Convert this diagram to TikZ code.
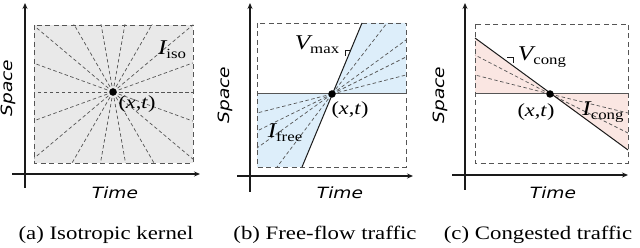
\documentclass[tikz,border=0pt]{standalone}
\usepackage{fontspec}
\setmainfont[FakeStretch=1.2]{Liberation Serif}
\setsansfont[FakeStretch=1.2]{DejaVu Sans}
\usetikzlibrary{arrows.meta,positioning}
\definecolor{Ink}{HTML}{1A1A1A}
\definecolor{Frame}{HTML}{555555}
\definecolor{Haze}{HTML}{E9E9E9}
\definecolor{Sky}{HTML}{DDEEFA}
\definecolor{Blush}{HTML}{FAE6E2}
\newcommand{\lowsub}[1]{\raisebox{-0.45ex}{\fontsize{14}{15}\selectfont #1}}

\tikzset{
  axis/.style={-{Stealth[length=6pt,width=5pt]}, line width=1.2pt, color=Ink},
  frame/.style={dash pattern=on 5pt off 3.5pt, color=Frame, line width=0.9pt},
  ray/.style={dash pattern=on 3.5pt off 2.5pt, color=Frame, line width=0.7pt},
  bound/.style={line width=1pt, color=Ink},
  level/.style={line width=1pt, color=Frame},
  marker/.style={line width=0.8pt, color=Ink},
  dot/.style={circle, fill=black, inner sep=0pt, minimum size=7.5pt},
  axlabel/.style={font=\sffamily\itshape\fontsize{15.5}{17}\selectfont},
  sym/.style={font=\itshape\fontsize{21}{23}\selectfont},
  pt/.style={font=\fontsize{18.5}{20}\selectfont},
  caption/.style={font=\fontsize{19}{22}\selectfont}
}

\begin{document}
\begin{tikzpicture}[x=1pt, y=-1pt]
  \useasboundingbox (0,0) rectangle (640,248);

  % (a) isotropic kernel
  \coordinate (ca) at (113,92);
  \fill[Haze] (34,25) rectangle (193,163);
  \begin{scope}
    \clip (34,25) rectangle (193,163);
    \foreach \ang in {0,20,...,340}
      \draw[ray] (ca) -- ++(\ang:160);
  \end{scope}
  \draw[frame] (34,25) rectangle (193,163);
  \coordinate (ya0) at (25,188);
  \coordinate (ya1) at (25,3);
  \coordinate (xa0) at (12,174);
  \coordinate (xa1) at (200,174);
  \draw[axis] (ya0) -- (ya1);
  \draw[axis] (xa0) -- (xa1);
  \node[dot] (pa) at (ca) {};
  \node[sym] (isoa) at (172,50) {I\lowsub{\upshape iso}};
  \node[pt] (lba) at (137,104) {(\textit{x},\textit{t})};
  \node[axlabel, rotate=90] (spa) at (8,88) {Space};
  \node[axlabel] (tia) at (115,193) {Time};
  \node[caption] (capa) at (106,235) {(a) Isotropic kernel};

  % (b) free-flow traffic
  \coordinate (cb) at (332,94);
  \coordinate (tb) at (362,23);
  \coordinate (bb) at (302,167);
  \fill[Sky] (cb) -- (tb) -- (406,23) -- (406,94) -- cycle;
  \fill[Sky] (cb) -- (bb) -- (257,167) -- (257,94) -- cycle;
  \foreach \ex/\ey in {387/23,406/40,406/57,406/75,277/167,257/113,257/131,257/148}
    \draw[ray] (cb) -- (\ex,\ey);
  \draw[frame] (257,23) rectangle (406,167);
  \draw[level] (257,94) -- (406,94);
  \draw[bound] (bb) -- (tb);
  \draw[marker] (350,50) -- (345,50) -- (345,56);
  \coordinate (yb0) at (250,192);
  \coordinate (yb1) at (250,3);
  \coordinate (xb0) at (237,176);
  \coordinate (xb1) at (413,176);
  \draw[axis] (yb0) -- (yb1);
  \draw[axis] (xb0) -- (xb1);
  \node[dot] (pb) at (cb) {};
  \node[sym] (vmb) at (317,45) {V\lowsub{\upshape max}};
  \node[sym] (frb) at (285,133) {I\lowsub{\upshape free}};
  \node[pt] (lbb) at (350,110) {(\textit{x},\textit{t})};
  \node[axlabel, rotate=90] (spb) at (225,95) {Space};
  \node[axlabel] (tib) at (340,193) {Time};
  \node[caption] (capb) at (325,235) {(b) Free-flow traffic};

  % (c) congested traffic
  \coordinate (cc) at (550,94);
  \coordinate (tc) at (475,38);
  \coordinate (bc) at (628,150);
  \fill[Blush] (cc) -- (tc) -- (475,94) -- cycle;
  \fill[Blush] (cc) -- (bc) -- (628,94) -- cycle;
  \foreach \ex/\ey in {475/55,475/75,628/113,628/133}
    \draw[ray] (cc) -- (\ex,\ey);
  \draw[frame] (475,24) rectangle (628,163);
  \draw[level] (475,94) -- (628,94);
  \draw[bound] (tc) -- (bc);
  \draw[marker] (507,57) -- (513,57) -- (513,63);
  \coordinate (yc0) at (465,190);
  \coordinate (yc1) at (465,3);
  \coordinate (xc0) at (452,175);
  \coordinate (xc1) at (628,175);
  \draw[axis] (yc0) -- (yc1);
  \draw[axis] (xc0) -- (xc1);
  \node[dot] (pc) at (cc) {};
  \node[sym] (vcc) at (542,57) {V\lowsub{\upshape cong}};
  \node[sym] (cgc) at (603,112) {I\lowsub{\upshape cong}};
  \node[pt] (lbc) at (536,112) {(\textit{x},\textit{t})};
  \node[axlabel, rotate=90] (spc) at (440,95) {Space};
  \node[axlabel] (tic) at (553,193) {Time};
  \node[caption] (capc) at (538,235) {(c) Congested traffic};
\end{tikzpicture}
\end{document}
